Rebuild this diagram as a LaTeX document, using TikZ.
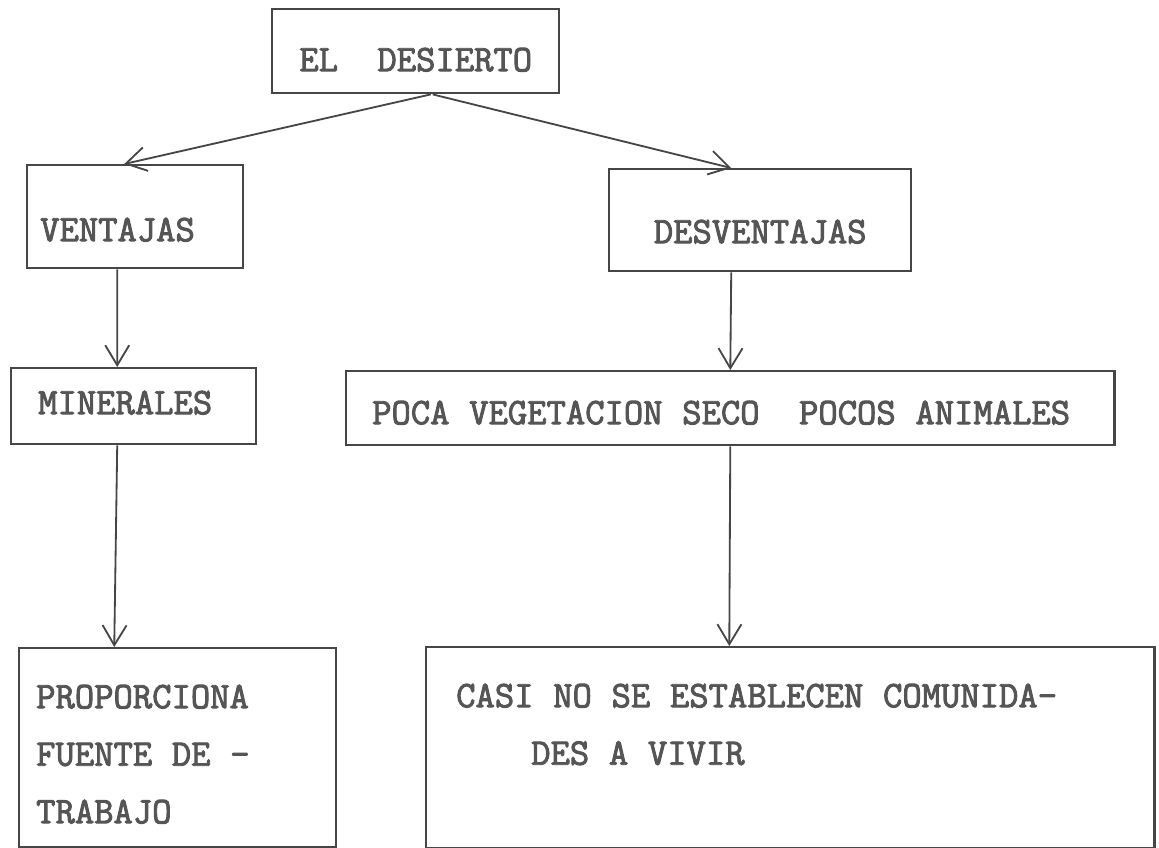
\documentclass[tikz,border=0pt]{standalone}
\usepackage{fontspec}
\usepackage{tikz}
\usetikzlibrary{calc,arrows.meta}
\newfontfamily\maquina{Latin Modern Mono}[FakeBold=2.5]
\newcommand{\hueco}{\hspace{0.525em}}
\definecolor{ink}{RGB}{70,70,70}
\definecolor{tinta}{RGB}{85,85,85}

\begin{document}
\begin{tikzpicture}[x=0.025cm,y=-0.025cm,
    caja/.style={draw=ink,line width=1.7pt,rectangle,anchor=north west,inner ysep=0pt,align=left,
      text=tinta,font={\fontsize{26.7pt}{40.9pt}\selectfont\maquina}},
    flecha/.style={draw=ink,line width=1.3pt,-{Straight Barb[length=0.5cm,width=0.6cm]}}]
    \useasboundingbox (0,0) rectangle (1159,848);

    \node[caja,minimum width=7.175cm,minimum height=2.1cm,inner xsep=0pt,text width=7.175cm,
      align=center,text height=1cm,text depth=0pt] (desierto) at (271,8) {EL\hueco\hueco DESIERTO};

    \node[caja,minimum width=5.4cm,minimum height=2.575cm,inner xsep=0.325cm,text width=4.75cm,
      text height=1.225cm,text depth=0pt] (ventajas) at (26,164) {VENTAJAS};

    \node[caja,minimum width=7.55cm,minimum height=2.55cm,inner xsep=0pt,text width=7.55cm,
      align=center,text height=1.15cm,text depth=0pt] (desventajas) at (608,168) {DESVENTAJAS};

    \node[caja,minimum width=6.125cm,minimum height=1.9cm,inner xsep=0.675cm,text width=4.775cm,
      text height=0.4cm,text depth=0pt] (minerales) at (10,367) {MINERALES};

    \node[caja,minimum width=19.2cm,minimum height=1.85cm,inner xsep=0.65cm,text width=17.9cm,
      text height=0.8cm,text depth=0pt] (poca) at (345,370)
      {POCA\hueco VEGETACION\hueco SECO\hueco\hueco POCOS\hueco ANIMALES};

    \node[caja,minimum width=7.925cm,minimum height=4.975cm,inner xsep=0.425cm,text width=7.075cm,
      text height=0pt,text depth=1.975cm] (proporciona) at (18,647) {
      PROPORCIONA\\
      FUENTE\hueco DE\hueco -\\
      TRABAJO
    };

    \node[caja,minimum width=18.2cm,minimum height=5.025cm,inner xsep=0.75cm,text width=16.7cm,
      text height=0pt,text depth=2.025cm] (casi) at (425,646) {
      CASI\hueco NO\hueco SE\hueco ESTABLECEN\hueco COMUNIDA-\\
      \hspace*{1.875cm}DES\hueco A\hueco VIVIR
    };

    \draw[flecha] ($(desierto.south)+(15,0)$) -- ($(ventajas.north)+(-11,0)$);
    \draw[flecha] ($(desierto.south)+(17,0)$) -- ($(desventajas.north)+(-29,0)$);
    \draw[flecha] ($(ventajas.south)+(-18,0)$) -- ($(minerales.north)+(-16.5,0)$);
    \draw[flecha] ($(desventajas.south)+(-29,0)$) -- (poca.north);
    \draw[flecha] ($(minerales.south)+(-16.5,0)$) -- ($(proporciona.north)+(-63.5,0)$);
    \draw[flecha] (poca.south) -- ($(casi.north)+(-61,0)$);

  \end{tikzpicture}
\end{document}
